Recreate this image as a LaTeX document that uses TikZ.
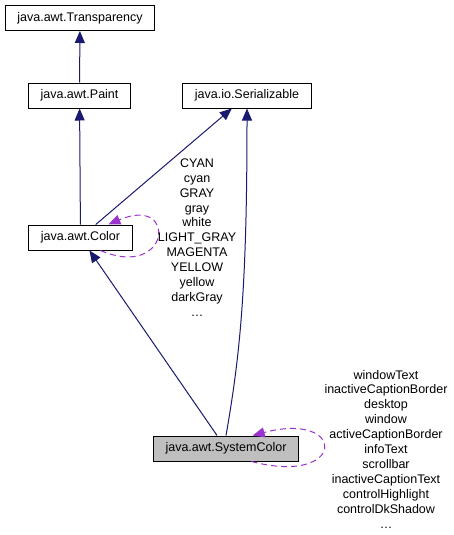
\documentclass[tikz,border=0pt]{standalone}
\usepackage{fontspec}
\setmainfont{Liberation Sans}
\usetikzlibrary{arrows.meta}
\definecolor{edgeblue}{HTML}{191970}
\definecolor{loopviolet}{HTML}{9A32CD}
\definecolor{boxgray}{HTML}{BFBFBF}

\begin{document}
\begin{tikzpicture}[x=1pt,y=-1pt,font=\fontsize{12.5}{14.9}\selectfont,
 cls/.style={draw,line width=1pt,fill=white,minimum height=25pt,inner xsep=12pt,inner ysep=0pt},
 edge/.style={draw=edgeblue,line width=1pt,-{Triangle[length=12pt,width=10pt,fill=edgeblue]}},
 selfloop/.style={draw=loopviolet,line width=1pt,dash pattern=on 6pt off 4pt,-{Triangle[length=12pt,width=10pt,fill=loopviolet]}},
 lbl/.style={align=center,inner sep=0pt}]
\useasboundingbox (0,0) rectangle (454,535);
\node[cls] (transp) at (80,18) {java.awt.Transparency};
\node[cls] (paint) at (79.5,95.5) {java.awt.Paint};
\node[cls] (serial) at (247,95.5) {java.io.Serializable};
\node[cls] (color) at (80.5,237.5) {java.awt.Color};
\node[cls,fill=boxgray] (syscol) at (226,448.5) {java.awt.SystemColor};
\draw[edge] (paint) -- (transp);
\draw[edge] (color) -- (paint);
\draw[edge] (color) -- (serial);
\draw[edge] (syscol) -- (color);
\draw[edge] (syscol.north) .. controls +(14,-80) and +(0,180) .. (serial.south);
\draw[selfloop] (color.-33) .. controls +(70,30) and +(70,-30) .. (color.25);
\draw[selfloop] (syscol.-27.5) .. controls +(95,25) and +(95,-25) .. (syscol.26);
\node[lbl] (colorlbl) at (197,237.5) {CYAN\\cyan\\GRAY\\gray\\white\\LIGHT\_GRAY\\MAGENTA\\YELLOW\\yellow\\darkGray\\\dots};
\node[lbl] (syscollbl) at (386,449) {windowText\\inactiveCaptionBorder\\desktop\\window\\activeCaptionBorder\\infoText\\scrollbar\\inactiveCaptionText\\controlHighlight\\controlDkShadow\\\dots};
\end{tikzpicture}
\end{document}
